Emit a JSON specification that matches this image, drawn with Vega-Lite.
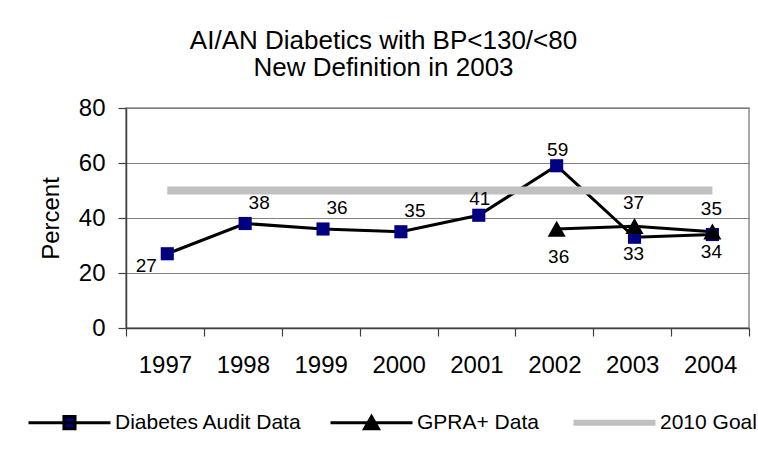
{
  "$schema": "https://vega.github.io/schema/vega-lite/v6.json",
  "width": 623,
  "height": 220,
  "autosize": "none",
  "padding": {"left": 126, "top": 108, "right": 9, "bottom": 134},
  "background": "white",
  "config": {"view": {"stroke": "#8c8c8c", "strokeWidth": 1.5}, "font": "Liberation Sans"},
  "title": {
    "text": ["AI/AN Diabetics with BP<130/<80", "New Definition in 2003"],
    "font": "Liberation Sans", "fontSize": 26, "fontWeight": "normal", "color": "black",
    "anchor": "middle", "frame": "group", "dx": -54, "offset": 15, "lineHeight": 27
  },
  "data": {"values": [
    {"year": 1997, "series": "Diabetes Audit Data", "value": 27},
    {"year": 1998, "series": "Diabetes Audit Data", "value": 38},
    {"year": 1999, "series": "Diabetes Audit Data", "value": 36},
    {"year": 2000, "series": "Diabetes Audit Data", "value": 35},
    {"year": 2001, "series": "Diabetes Audit Data", "value": 41},
    {"year": 2002, "series": "Diabetes Audit Data", "value": 59},
    {"year": 2003, "series": "Diabetes Audit Data", "value": 33},
    {"year": 2004, "series": "Diabetes Audit Data", "value": 34},
    {"year": 2002, "series": "GPRA+ Data", "value": 36},
    {"year": 2003, "series": "GPRA+ Data", "value": 37},
    {"year": 2004, "series": "GPRA+ Data", "value": 35},
    {"year": 1997, "series": "2010 Goal", "value": 50},
    {"year": 1998, "series": "2010 Goal", "value": 50},
    {"year": 1999, "series": "2010 Goal", "value": 50},
    {"year": 2000, "series": "2010 Goal", "value": 50},
    {"year": 2001, "series": "2010 Goal", "value": 50},
    {"year": 2002, "series": "2010 Goal", "value": 50},
    {"year": 2003, "series": "2010 Goal", "value": 50},
    {"year": 2004, "series": "2010 Goal", "value": 50}
  ]},
  "encoding": {
    "x": {
      "field": "year", "type": "ordinal", "bandPosition": 0.53,
      "scale": {"type": "band", "paddingInner": 0, "paddingOuter": 0},
      "axis": {
        "title": null, "labelAngle": 0, "tickBand": "extent", "tickSize": 8, "labelPadding": 17,
        "labelFont": "Liberation Sans", "labelFontSize": 24, "labelColor": "black",
        "domainColor": "#404040", "tickColor": "#404040", "domainWidth": 1.5, "tickWidth": 1.2, "grid": false
      }
    },
    "y": {
      "field": "value", "type": "quantitative",
      "scale": {"domain": [0, 80], "nice": false, "zero": true},
      "axis": {
        "title": "Percent", "titleFont": "Liberation Sans", "titleFontSize": 24, "titleFontWeight": "normal",
        "titleColor": "black", "titlePadding": 15,
        "values": [0, 20, 40, 60, 80], "tickSize": 8, "labelPadding": 13,
        "labelFont": "Liberation Sans", "labelFontSize": 24, "labelColor": "black",
        "grid": true, "gridColor": "#808080", "gridWidth": 1,
        "domainColor": "#404040", "tickColor": "#404040", "domainWidth": 1.5, "tickWidth": 1.2
      }
    }
  },
  "layer": [
    {
      "transform": [{"filter": "datum.series !== '2010 Goal'"}],
      "mark": {"type": "line", "strokeWidth": 3},
      "encoding": {
        "stroke": {
          "field": "series", "type": "nominal",
          "scale": {
            "domain": ["Diabetes Audit Data", "GPRA+ Data", "2010 Goal"],
            "range": ["black", "black", "#c0c0c0"]
          },
          "legend": {
            "orient": "none", "legendX": -99, "legendY": 272, "direction": "horizontal", "columns": 3,
            "title": null, "symbolType": "stroke", "symbolSize": 6724, "symbolStrokeWidth": 3,
            "labelFont": "Liberation Sans", "labelFontSize": 21, "labelColor": "black", "labelLimit": 400,
            "labelOffset": 3, "columnPadding": 22, "padding": 0,
            "encode": {"symbols": {"update": {
              "size": {"value": 6724},
              "shape": {"signal": "(datum.value === 'Diabetes Audit Data' ? 'M-1,0L1,0M-0.135,-0.15L0.135,-0.15L0.135,0.15L-0.135,0.15Z' : datum.value === 'GPRA+ Data' ? 'M-1,0L1,0M0,-0.15L0.17,0.15L-0.17,0.15Z' : 'stroke')"},
              "fill": {"signal": "(datum.value === 'Diabetes Audit Data' ? '#000080' : datum.value === 'GPRA+ Data' ? 'black' : 'transparent')"},
              "stroke": {"signal": "(datum.value === 'Diabetes Audit Data' ? '#000080' : datum.value === 'GPRA+ Data' ? 'black' : '#c0c0c0')"},
              "strokeWidth": {"signal": "(datum.value === '2010 Goal' ? 6 : 3)"}
            }}}
          }
        }
      }
    },
    {
      "transform": [{"filter": "datum.series === '2010 Goal'"}],
      "mark": {"type": "line", "strokeWidth": 8},
      "encoding": {"stroke": {"field": "series", "type": "nominal"}}
    },
    {
      "transform": [{"filter": "datum.series !== '2010 Goal'"}],
      "mark": {"type": "point", "filled": true, "size": 6724, "opacity": 1},
      "encoding": {
        "shape": {
          "field": "series", "type": "nominal",
          "scale": {
            "domain": ["Diabetes Audit Data", "GPRA+ Data"],
            "range": [
              "M-0.16,-0.16L0.16,-0.16L0.16,0.16L-0.16,0.16Z",
              "M0,-0.2L0.22,0.19L-0.22,0.19Z"
            ]
          },
          "legend": null
        },
        "fill": {
          "field": "series", "type": "nominal",
          "scale": {
            "domain": ["Diabetes Audit Data", "GPRA+ Data"],
            "range": ["#000080", "black"]
          },
          "legend": null
        }
      }
    },
    {
      "transform": [{"filter": "datum.series === 'Diabetes Audit Data' && datum.year >= 1998 && datum.year <= 2000"}],
      "mark": {"type": "text", "font": "Liberation Sans", "fontSize": 19, "color": "black", "dx": 14, "dy": -21},
      "encoding": {"text": {"field": "value", "type": "quantitative"}}
    },
    {
      "transform": [{"filter": "datum.series === 'Diabetes Audit Data' && datum.year >= 2001 && datum.year <= 2002"}],
      "mark": {"type": "text", "font": "Liberation Sans", "fontSize": 19, "color": "black", "dx": 1, "dy": -16},
      "encoding": {"text": {"field": "value", "type": "quantitative"}}
    },
    {
      "transform": [{"filter": "datum.series === 'GPRA+ Data' && datum.year >= 2003"}],
      "mark": {"type": "text", "font": "Liberation Sans", "fontSize": 19, "color": "black", "dx": -1, "dy": -23},
      "encoding": {"text": {"field": "value", "type": "quantitative"}}
    },
    {
      "transform": [{"filter": "datum.series === 'Diabetes Audit Data' && datum.year >= 2003"}],
      "mark": {"type": "text", "font": "Liberation Sans", "fontSize": 19, "color": "black", "dx": -1, "dy": 17},
      "encoding": {"text": {"field": "value", "type": "quantitative"}}
    },
    {
      "transform": [{"filter": "datum.series === 'GPRA+ Data' && datum.year === 2002"}],
      "mark": {"type": "text", "font": "Liberation Sans", "fontSize": 19, "color": "black", "dx": 2, "dy": 28},
      "encoding": {"text": {"field": "value", "type": "quantitative"}}
    },
    {
      "transform": [{"filter": "datum.series === 'Diabetes Audit Data' && datum.year === 1997"}],
      "mark": {"type": "text", "font": "Liberation Sans", "fontSize": 19, "color": "black", "dx": -21, "dy": 12},
      "encoding": {"text": {"field": "value", "type": "quantitative"}}
    }
  ]
}
